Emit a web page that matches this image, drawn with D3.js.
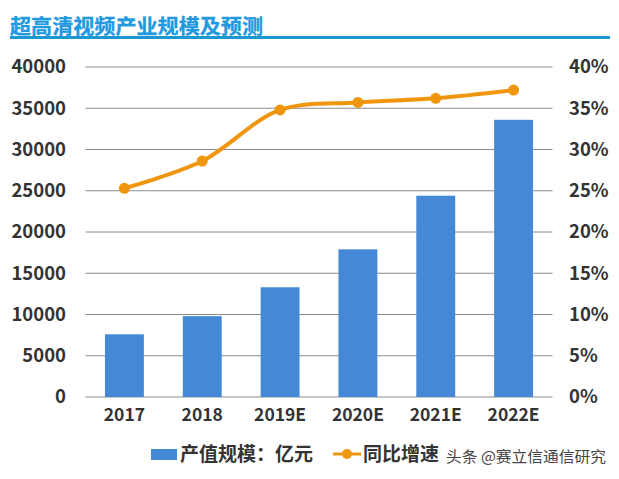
<!DOCTYPE html>
<html><head><meta charset="utf-8">
<script src="https://cdn.jsdelivr.net/npm/d3@7/dist/d3.min.js"></script>
<style>
html,body{margin:0;padding:0;background:#fff}
svg{display:block}
text{font-family:"Noto Sans CJK SC","Open Sans",sans-serif}
</style></head><body>
<svg id="c" width="619" height="479"></svg>
<script>
const categories=["2017","2018","2019E","2020E","2021E","2022E"];
const scaleValues=[7600,9800,13300,17900,24400,33600];
const growthValues=[25.3,28.6,34.8,35.7,36.2,37.2];
const leftTicks=[0,5000,10000,15000,20000,25000,30000,35000,40000];
const rightTicks=[0,5,10,15,20,25,30,35,40];
const titleText="超高清视频产业规模及预测";
const barName="产值规模：亿元";
const lineName="同比增速";
const watermark="头条 @赛立信通信研究";

const svg=d3.select("#c");
const m={l:85.5,r:552.5,t:67,b:397};
const x=d3.scaleBand().domain(categories).range([m.l,m.r]).paddingInner(0.5).paddingOuter(0.25);
const y=d3.scaleLinear().domain([0,40000]).range([m.b,m.t]);
const y2=d3.scaleLinear().domain([0,40]).range([m.b,m.t]);
const tc="#333333";

svg.append("text").attr("x",10).attr("y",34).attr("font-size",20).attr("font-weight",700)
  .attr("fill","#1f9ae0").attr("stroke","#1f9ae0").attr("stroke-width",0.3)
  .attr("textLength",253).attr("lengthAdjust","spacingAndGlyphs").text(titleText);
svg.append("rect").attr("x",10).attr("y",36).attr("width",600).attr("height",3).attr("fill","#1e96d2");

svg.append("g").selectAll("line").data(leftTicks).join("line")
  .attr("x1",m.l).attr("x2",m.r).attr("y1",d=>y(d)).attr("y2",d=>y(d))
  .attr("stroke","#8c8c8c").attr("stroke-width",1);

svg.append("g").selectAll("rect").data(categories).join("rect")
  .attr("x",d=>x(d)).attr("width",x.bandwidth())
  .attr("y",(d,i)=>y(scaleValues[i])).attr("height",(d,i)=>m.b-y(scaleValues[i]))
  .attr("fill","#4488d6");

const line=d3.line().x((d,i)=>x(categories[i])+x.bandwidth()/2).y(d=>y2(d)).curve(d3.curveCatmullRom.alpha(0.5));
svg.append("path").attr("d",line(growthValues)).attr("fill","none").attr("stroke","#f0960e").attr("stroke-width",4);
svg.append("g").selectAll("circle").data(growthValues).join("circle")
  .attr("cx",(d,i)=>x(categories[i])+x.bandwidth()/2).attr("cy",d=>y2(d)).attr("r",5.5).attr("fill","#f0960e");

function style(g){g.select(".domain").remove();g.selectAll(".tick line").remove();
  g.selectAll("text").attr("fill",tc).attr("font-size",18.5).attr("font-weight",600).attr("font-family",'"Open Sans",sans-serif');}
svg.append("g").attr("transform",`translate(66,0)`)
  .call(d3.axisLeft(y).tickValues(leftTicks).tickSize(0).tickPadding(0).tickFormat(d3.format("d"))).call(style);
svg.append("g").attr("transform",`translate(569,0)`)
  .call(d3.axisRight(y2).tickValues(rightTicks).tickSize(0).tickPadding(0).tickFormat(d=>d+"%")).call(style);
svg.append("g").attr("transform",`translate(0,${m.b+12})`)
  .call(d3.axisBottom(x).tickValues(categories).tickSize(0).tickPadding(0)).call(style)
  .selectAll("text").attr("font-size",17.5);

const ly=454;
svg.append("rect").attr("x",151).attr("y",ly-5).attr("width",26).attr("height",11).attr("fill","#4488d6");
svg.append("text").attr("x",180).attr("y",ly+7).attr("font-size",19).attr("font-weight",700).attr("fill",tc).text(barName);
svg.append("line").attr("x1",333).attr("x2",361).attr("y1",ly).attr("y2",ly).attr("stroke","#f0960e").attr("stroke-width",3);
svg.append("circle").attr("cx",347).attr("cy",ly).attr("r",5).attr("fill","#f0960e");
svg.append("text").attr("x",363).attr("y",ly+7).attr("font-size",19).attr("font-weight",700).attr("fill",tc).text(lineName);
svg.append("text").attr("x",446).attr("y",ly+8).attr("font-size",15).attr("fill","#444").attr("textLength",160).attr("lengthAdjust","spacingAndGlyphs").text(watermark);
</script></body></html>
